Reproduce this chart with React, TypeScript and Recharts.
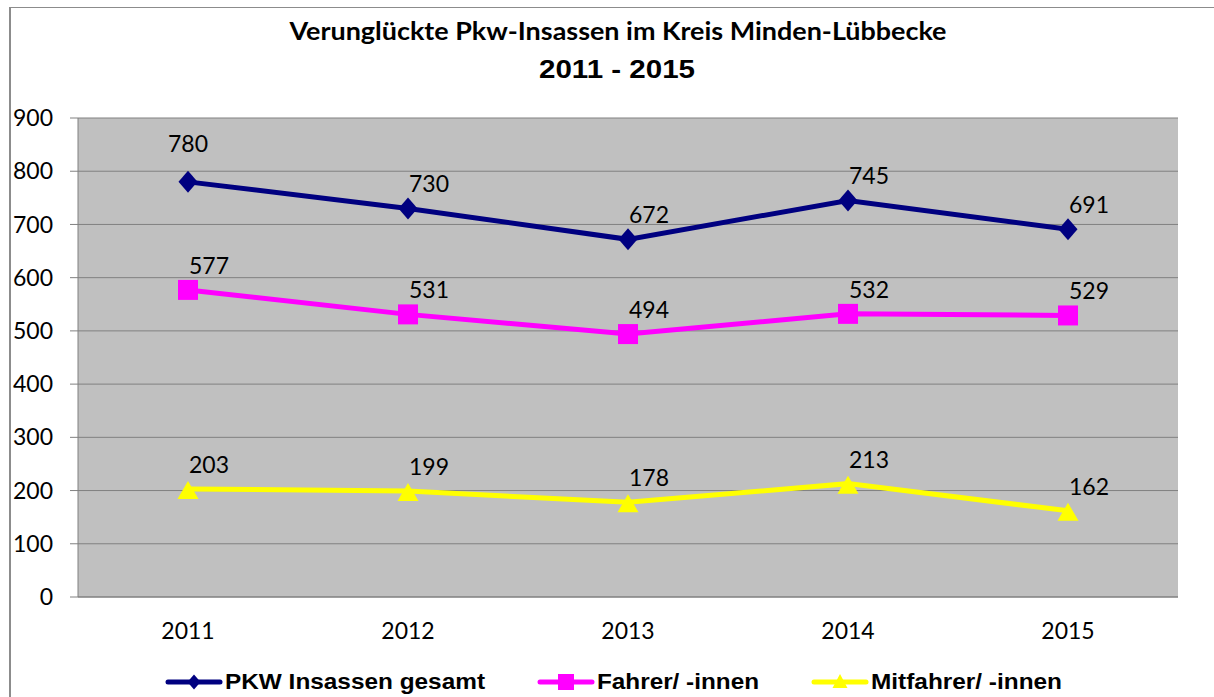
import React from 'react';
import { LineChart, Line, XAxis, YAxis, CartesianGrid, Legend } from 'recharts';

const years = ['2011', '2012', '2013', '2014', '2015'];
const gesamt = [780, 730, 672, 745, 691];
const fahrer = [577, 531, 494, 532, 529];
const mitfahrer = [203, 199, 178, 213, 162];
const yTicks = [0, 100, 200, 300, 400, 500, 600, 700, 800, 900];
const boundaryTicks = [0, 1, 2, 3, 4, 5];
const seriesKeys = ['gesamt', 'fahrer', 'mitfahrer'];
const seriesNames = ['PKW Insassen gesamt', 'Fahrer/ -innen', 'Mitfahrer/ -innen'];
const titleLine1 = 'Verunglückte Pkw-Insassen im Kreis Minden-Lübbecke';
const titleLine2 = '2011 - 2015';

const data = years.map((y, i) => ({
  year: y,
  gesamt: gesamt[i],
  fahrer: fahrer[i],
  mitfahrer: mitfahrer[i],
}));

const NAVY = '#000080';
const MAGENTA = '#FF00FF';
const YELLOW = '#FFFF00';
const GRID = '#808080';
const LABEL_FONT = 'Lato, "Open Sans", sans-serif';
const BOLD_FONT = '"Liberation Sans", Arial, sans-serif';

const diamondPts = (cx: number, cy: number, w: number, h: number) =>
  `${cx},${cy - h / 2} ${cx + w / 2},${cy} ${cx},${cy + h / 2} ${cx - w / 2},${cy}`;
const trianglePts = (cx: number, cy: number, w: number, h: number) =>
  `${cx},${cy - h / 2} ${cx + w / 2},${cy + h / 2} ${cx - w / 2},${cy + h / 2}`;

const DiamondDot = (props: any) => {
  const { cx, cy } = props;
  if (cx == null || cy == null) return null;
  return <polygon points={diamondPts(cx, cy, 19, 22)} fill={NAVY} />;
};
const SquareDot = (props: any) => {
  const { cx, cy } = props;
  if (cx == null || cy == null) return null;
  return <rect x={cx - 10} y={cy - 10} width={20} height={20} fill={MAGENTA} />;
};
const TriangleDot = (props: any) => {
  const { cx, cy } = props;
  if (cx == null || cy == null) return null;
  return <polygon points={trianglePts(cx, cy + 1, 21, 18)} fill={YELLOW} />;
};

const makeLabel = (series: string) => (props: any) => {
  const { x, y, value, index } = props;
  if (x == null || y == null) return null;
  let dx = 21;
  let dy = -16;
  if (series === 'gesamt' && index === 0) {
    dx = 0;
    dy = -30;
  }
  return (
    <text
      key={`${series}-${index}`}
      x={x + dx}
      y={y + dy}
      textAnchor="middle"
      fontFamily={LABEL_FONT}
      fontSize={23}
      fill="#000"
    >
      {value}
    </text>
  );
};

const legendTextLengths = [260, 162, 191];

const renderLegend = (props: any) => {
  const payload = (props.payload || []).slice();
  payload.sort((a: any, b: any) => seriesKeys.indexOf(a.dataKey) - seriesKeys.indexOf(b.dataKey));
  let x = 166;
  const items: any[] = [];
  payload.forEach((entry: any, i: number) => {
    const key = entry.dataKey;
    const color = entry.color;
    const lineY = 17;
    const x0 = x;
    const mid = x0 + 28;
    let marker = null;
    if (key === 'gesamt') marker = <polygon points={diamondPts(mid, lineY, 13, 15)} fill={color} />;
    else if (key === 'fahrer') marker = <rect x={mid - 8} y={lineY - 8} width={16} height={16} fill={color} />;
    else marker = <polygon points={trianglePts(mid, lineY - 1, 15, 14)} fill={color} />;
    const tl = legendTextLengths[i] || 160;
    items.push(
      <g key={`leg-${i}`}>
        <line x1={x0 + 2} y1={lineY} x2={x0 + 54} y2={lineY} stroke={color} strokeWidth={5} strokeLinecap="round" />
        {marker}
        <text
          x={x0 + 59}
          y={24}
          fontFamily={BOLD_FONT}
          fontWeight={700}
          fontSize={22}
          fill="#000"
          textLength={tl}
          lengthAdjust="spacingAndGlyphs"
        >
          {entry.value}
        </text>
      </g>
    );
    x = x0 + 59 + tl + 53;
  });
  return (
    <svg width={1214} height={34} style={{ display: 'block' }}>
      {items}
    </svg>
  );
};

export default function App() {
  return (
    <div style={{ position: 'absolute', left: 0, top: 0, width: 1214, height: 697, overflow: 'hidden', background: '#fff' }}>
      <div
        style={{
          position: 'absolute',
          left: 9,
          top: 7,
          width: 1260,
          height: 760,
          borderLeft: '2px solid #8c8c8c',
          borderTop: '1px solid #8c8c8c',
          boxSizing: 'border-box',
        }}
      />
      <LineChart
        width={1214}
        height={697}
        data={data}
        margin={{ top: 118, right: 36, left: 0, bottom: 98 }}
      >
        <CartesianGrid vertical={false} stroke={GRID} fill="#C0C0C0" fillOpacity={1} />
        <XAxis
          xAxisId="grid"
          type="number"
          domain={[0, 5]}
          ticks={boundaryTicks}
          allowDataOverflow
          tick={false}
          axisLine={false}
          tickSize={8}
          tickLine={{ stroke: GRID }}
          height={1}
        />
        <XAxis
          dataKey="year"
          padding={{ left: 110, right: 110 }}
          axisLine={{ stroke: GRID }}
          tickLine={false}
          tickSize={0}
          tickMargin={26}
          height={1}
          tick={{ fontFamily: LABEL_FONT, fontSize: 23, fill: '#000' }}
        />
        <YAxis
          domain={[0, 900]}
          ticks={yTicks}
          width={78}
          tickSize={8}
          tickMargin={17}
          axisLine={{ stroke: GRID }}
          tickLine={{ stroke: GRID }}
          tick={{ fontFamily: LABEL_FONT, fontSize: 23, fill: '#000' }}
          allowDataOverflow
        />
        <Line
          dataKey="gesamt"
          name={seriesNames[0]}
          stroke={NAVY}
          strokeWidth={5}
          dot={<DiamondDot />}
          activeDot={false}
          label={makeLabel('gesamt')}
          isAnimationActive={false}
        />
        <Line
          dataKey="fahrer"
          name={seriesNames[1]}
          stroke={MAGENTA}
          strokeWidth={5}
          dot={<SquareDot />}
          activeDot={false}
          label={makeLabel('fahrer')}
          isAnimationActive={false}
        />
        <Line
          dataKey="mitfahrer"
          name={seriesNames[2]}
          stroke={YELLOW}
          strokeWidth={5}
          dot={<TriangleDot />}
          activeDot={false}
          label={makeLabel('mitfahrer')}
          isAnimationActive={false}
        />
        <Legend
          verticalAlign="middle"
          align="center"
          layout="horizontal"
          content={renderLegend}
          wrapperStyle={{ left: 0, top: 665, width: 1214, height: 34 }}
        />
      </LineChart>
      <svg
        width={1214}
        height={100}
        style={{ position: 'absolute', left: 0, top: 0, pointerEvents: 'none' }}
      >
        <text
          x={618}
          y={40}
          textAnchor="middle"
          fontFamily={LABEL_FONT}
          fontWeight={700}
          fontSize={25}
          fill="#000"
          textLength={657}
          lengthAdjust="spacingAndGlyphs"
        >
          {titleLine1}
        </text>
        <text
          x={617}
          y={78}
          textAnchor="middle"
          fontFamily={BOLD_FONT}
          fontWeight={700}
          fontSize={26}
          fill="#000"
          textLength={156}
          lengthAdjust="spacingAndGlyphs"
        >
          {titleLine2}
        </text>
      </svg>
    </div>
  );
}
